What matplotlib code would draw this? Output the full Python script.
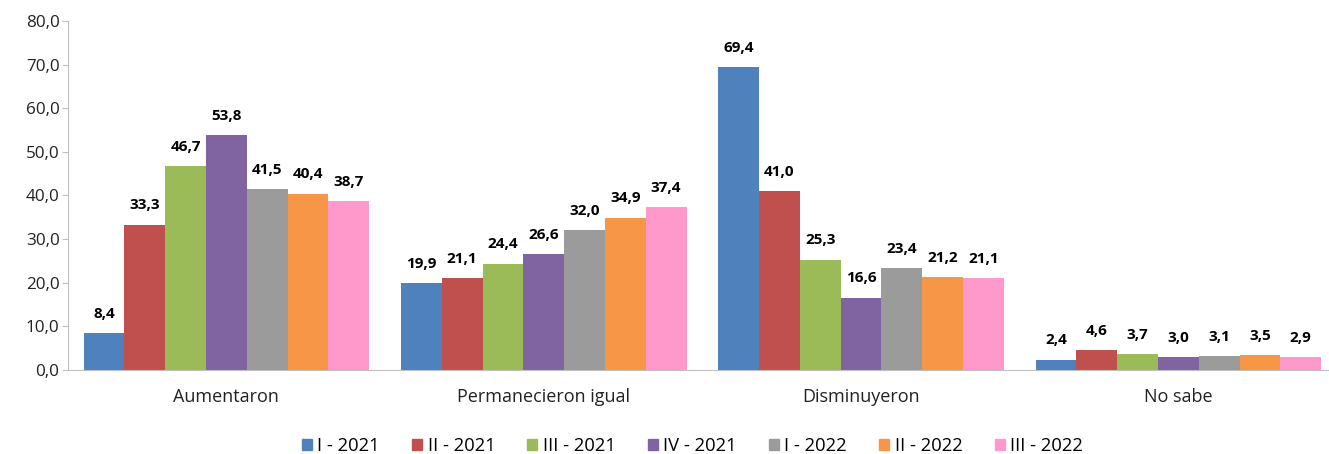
import matplotlib.pyplot as plt
import numpy as np
from matplotlib.patches import Patch

plt.rcParams['font.family'] = ['Open Sans', 'DejaVu Sans']

categories = ['Aumentaron', 'Permanecieron igual', 'Disminuyeron', 'No sabe']
series = ['I - 2021', 'II - 2021', 'III - 2021', 'IV - 2021', 'I - 2022', 'II - 2022', 'III - 2022']
values = [
    [8.4, 19.9, 69.4, 2.4],
    [33.3, 21.1, 41.0, 4.6],
    [46.7, 24.4, 25.3, 3.7],
    [53.8, 26.6, 16.6, 3.0],
    [41.5, 32.0, 23.4, 3.1],
    [40.4, 34.9, 21.2, 3.5],
    [38.7, 37.4, 21.1, 2.9],
]
colors = ['#4F81BD', '#C0504D', '#9BBB59', '#8064A2', '#9B9B9B', '#F79646', '#FF99CC']

fig = plt.figure(figsize=(13.29, 4.54), dpi=100)
ax = fig.add_axes([0.0510, 0.185, 0.955, 0.769])

x = np.arange(len(categories))
w = 0.9 / len(series)
for i, (name, vals) in enumerate(zip(series, values)):
    pos = x - 0.45 + w * (i + 0.5)
    ax.bar(pos, vals, width=w, color=colors[i], label=name)
    for p, v in zip(pos, vals):
        ax.text(p, v + 2.8, f'{v:.1f}'.replace('.', ','), ha='center', va='bottom',
                fontsize=11, fontweight='bold', color='black')

ax.set_xlim(-0.5, 3.5)
ax.set_ylim(0, 80)
ax.set_yticks(np.arange(0, 81, 10))
ax.set_yticklabels([f'{t:.1f}'.replace('.', ',') for t in np.arange(0, 81, 10)])
ax.set_xticks(x)
ax.set_xticklabels(categories)
ax.tick_params(axis='x', length=0, pad=13, labelsize=13, colors='#222222')
ax.tick_params(axis='y', length=4, color='#BFBFBF', labelsize=12.3, labelcolor='#222222', pad=2)
for s in ['top', 'right']:
    ax.spines[s].set_visible(False)
for s in ['left', 'bottom']:
    ax.spines[s].set_color('#BFBFBF')

handles = [Patch(color=c, label=n) for c, n in zip(colors, series)]
fig.legend(handles=handles, loc='center', bbox_to_anchor=(0.521, 0.018), ncol=7,
           frameon=False, fontsize=13.2, handlelength=0.55, handleheight=0.55,
           handletextpad=0.3, columnspacing=1.75)

fig.savefig('out.png', dpi=100)
